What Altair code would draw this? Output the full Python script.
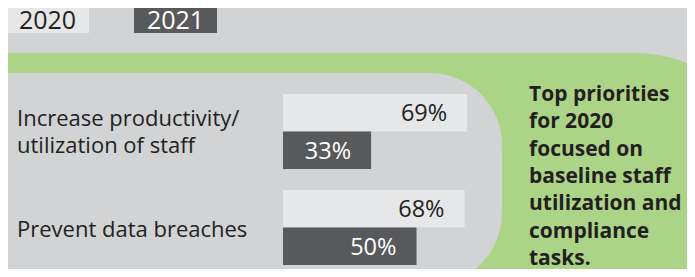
import altair as alt
import pandas as pd

# ---- data ----
categories = ["Increase productivity/\nutilization of staff", "Prevent data breaches"]
years = ["2020", "2021"]
values_2020 = [69, 68]
values_2021 = [33, 50]
note_lines = ["Top priorities", "for 2020", "focused on", "baseline staff",
              "utilization and", "compliance", "tasks."]

# ---- styles ----
BG = "#d1d3d4"
GREEN = "#acd487"
LIGHT = "#e6e7e8"
DARK = "#58595b"
INK = "#231f20"
FONT = "Open Sans"

rows = []
for cat, v20, v21 in zip(categories, values_2020, values_2021):
    rows.append({"category": cat, "year": "2020", "value": v20, "label": f"{v20}%"})
    rows.append({"category": cat, "year": "2021", "value": v21, "label": f"{v21}%"})
df = pd.DataFrame(rows)
cat_df = pd.DataFrame({"category": categories,
                       "nlines": [c.count("\n") + 1 for c in categories]})
year_df = pd.DataFrame({"year": years})
one = pd.DataFrame({"k": [0]})

x_scale = alt.Scale(domain=[0, 100], range=[275, 542])
y_scale = alt.Scale(domain=categories, range=[86, 257], paddingInner=0.21875, paddingOuter=0)
yoff = alt.YOffset("year:N", scale=alt.Scale(domain=years, paddingInner=0, paddingOuter=0))

green_panel = alt.Chart(one).mark_rect(color=GREEN, cornerRadiusTopRight=150).encode(
    x=alt.value(-2), x2=alt.value(775), y=alt.value(45), y2=alt.value(420)
)
grey_panel = alt.Chart(one).mark_rect(
    color=BG, cornerRadiusTopRight=72, cornerRadiusBottomRight=72
).encode(x=alt.value(-1), x2=alt.value(494), y=alt.value(65), y2=alt.value(277))

legend_x = alt.X("year:N", scale=alt.Scale(type="band", domain=years, range=[-2, 209],
                                            paddingInner=45 / 128, paddingOuter=0), axis=None)
legend_boxes = alt.Chart(year_df).mark_bar().encode(
    x=legend_x, y=alt.value(-8), y2=alt.value(25),
    color=alt.Color("year:N", scale=alt.Scale(domain=years, range=[LIGHT, DARK]), legend=None),
)
legend_text = alt.Chart(year_df).mark_text(
    font=FONT, fontSize=25, align="center", baseline="alphabetic"
).encode(
    x=legend_x, y=alt.value(21), text="year:N",
    color=alt.Color("year:N", scale=alt.Scale(domain=years, range=[INK, "white"]), legend=None),
)

bars = alt.Chart(df).mark_bar().encode(
    x=alt.X("value:Q", scale=x_scale, axis=None),
    y=alt.Y("category:N", scale=y_scale, axis=None),
    yOffset=yoff,
    color=alt.Color("year:N", scale=alt.Scale(domain=years, range=[LIGHT, DARK]), legend=None),
)
bar_labels = alt.Chart(df).mark_text(
    font=FONT, fontSize=23.5, align="right", baseline="alphabetic", dx=-20, dy=8.5
).encode(
    x=alt.X("value:Q", scale=x_scale, axis=None),
    y=alt.Y("category:N", scale=y_scale, axis=None),
    yOffset=yoff,
    text="label:N",
    color=alt.Color("year:N", scale=alt.Scale(domain=years, range=[INK, "white"]), legend=None),
)


def cat_label_layer(filter_expr, dy):
    return alt.Chart(cat_df).transform_filter(filter_expr).mark_text(
        font=FONT, fontSize=22, align="left", baseline="alphabetic", lineBreak="\n",
        lineHeight=27, dy=dy, color=INK
    ).encode(
        x=alt.value(9),
        y=alt.Y("category:N", scale=y_scale, axis=None),
        text="category:N",
    )


cat_labels_multi = cat_label_layer("datum.nlines > 1", -5.5)
cat_labels_single = cat_label_layer("datum.nlines == 1", 9.5)

note = alt.Chart(one).mark_text(
    text=note_lines, font=FONT, fontSize=21, fontWeight="bold", align="left",
    baseline="alphabetic", lineHeight=27.3, color=INK
).encode(x=alt.value(521), y=alt.value(93))

chart = alt.layer(
    green_panel, grey_panel, legend_boxes, legend_text, bars, bar_labels,
    cat_labels_multi, cat_labels_single, note
).resolve_scale(x="independent", color="independent").properties(
    width=679, height=261,
    autosize=alt.AutoSizeParams(type="none"),
    padding=0,
    background=BG,
).configure_view(stroke=None)

chart.save("out.html", embed_options={"renderer": "svg", "actions": False})
